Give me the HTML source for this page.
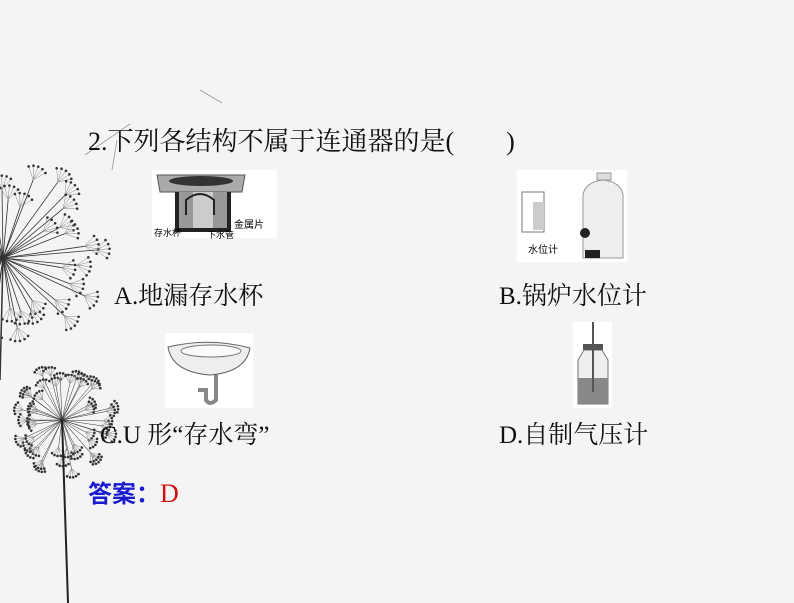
<!DOCTYPE html>
<html><head><meta charset="utf-8"><style>
body{margin:0;width:794px;height:603px;overflow:hidden;background:#f4f4f4;position:relative;font-family:"Liberation Serif","Noto Serif CJK SC",serif;color:#111}
.t{position:absolute;font-size:25px;white-space:nowrap;line-height:1}
svg{position:absolute;left:0;top:0}
</style></head><body>
<svg id="bg" width="794" height="603"></svg>
<div class="t" style="left:88px;top:129px;font-size:26px">2.下列各结构不属于连通器的是(&nbsp;&nbsp;&nbsp;&nbsp;&nbsp;&nbsp;&nbsp;&nbsp;)</div>
<div class="t" style="left:114px;top:284px">A.地漏存水杯</div>
<div class="t" style="left:499px;top:284px">B.锅炉水位计</div>
<div class="t" style="left:100px;top:423px">C.U 形“存水弯”</div>
<div class="t" style="left:499px;top:423px">D.自制气压计</div>
<div class="t" style="left:88px;top:480px;color:#1a1ad0;font-family:'Noto Sans CJK SC',sans-serif;font-size:24px;font-weight:bold">答案：<span style="color:#d01010;font-family:'Liberation Serif',serif;font-weight:normal;font-size:26px">D</span></div>
<svg width="794" height="603" style="pointer-events:none">
<rect x="152" y="170" width="125" height="68" fill="#fff"/>
<path d="M157 175 L245 175 L242 192 L160 192Z" fill="#aaa" stroke="#555"/>
<ellipse cx="201" cy="181" rx="32" ry="5" fill="#333"/>
<rect x="175" y="192" width="56" height="40" fill="#222"/>
<rect x="179" y="192" width="48" height="36" fill="#999"/>
<rect x="193" y="192" width="20" height="36" fill="#ccc"/>
<path d="M186 215 V200 Q200 188 214 200 V215" stroke="#222" stroke-width="2" fill="none"/>
<text x="234" y="228" font-size="10" font-family="Noto Sans CJK SC">金属片</text>
<text x="154" y="236" font-size="9" font-family="Noto Sans CJK SC">存水杯</text>
<text x="207" y="238" font-size="9" font-family="Noto Sans CJK SC">下水管</text>
<rect x="517" y="170" width="110" height="92" fill="#fff"/>
<rect x="522" y="192" width="22" height="40" fill="none" stroke="#777"/>
<rect x="533" y="202" width="11" height="28" fill="#ccc"/>
<path d="M583 195 Q585 182 603 180 Q621 182 623 195 V258 H583Z" fill="#eee" stroke="#999"/>
<rect x="597" y="173" width="14" height="7" fill="#ddd" stroke="#999"/>
<circle cx="585" cy="233" r="5" fill="#222"/>
<rect x="585" y="250" width="15" height="8" fill="#222"/>
<text x="528" y="253" font-size="10" font-family="Noto Sans CJK SC">水位计</text>
<rect x="165" y="333" width="88" height="75" fill="#fff"/>
<path d="M168 347 Q210 337 250 348 Q246 372 210 375 Q172 372 168 347Z" fill="#eee" stroke="#666"/>
<ellipse cx="211" cy="351" rx="30" ry="6" fill="#fafafa" stroke="#777"/>
<path d="M216 375 V400 Q210 406 206 400 V390 H198" stroke="#888" stroke-width="4" fill="none"/>
<rect x="573" y="322" width="39" height="86" fill="#fff"/>
<path d="M578 360 L584 350 H602 L608 360 V404 H578Z" fill="#eee" stroke="#777"/>
<rect x="578" y="378" width="30" height="26" fill="#888"/>
<rect x="583" y="344" width="20" height="6" fill="#555"/>
<line x1="593" y1="322" x2="593" y2="392" stroke="#555" stroke-width="2"/>
</svg>
<script>
var s=document.getElementById('bg'),h='';
function L(x1,y1,x2,y2,w,c){h+='<line x1="'+x1+'" y1="'+y1+'" x2="'+x2+'" y2="'+y2+'" stroke="'+c+'" stroke-width="'+w+'"/>';}
function D(x,y,r){h+='<circle cx="'+x+'" cy="'+y+'" r="'+r+'" fill="#333"/>';}
var seed=7;function rnd(){seed=(seed*9301+49297)%233280;return seed/233280;}
function flower(cx,cy,R,n,fan,sw){for(var i=0;i<n;i++){var ang=(i/n)*Math.PI*2+rnd()*0.2;var r=R*(0.5+0.5*rnd());var x=cx+Math.cos(ang)*r,y=cy+Math.sin(ang)*r;L(cx,cy,x,y,sw,'#333');for(var k=-2;k<=2;k++){var b=ang+k*0.35;var x2=x+Math.cos(b)*fan,y2=y+Math.sin(b)*fan;L(x,y,x2,y2,0.5,'#888');D(x2,y2,1.3);}}}
flower(3,258,95,45,14,0.8);
seed=13;flower(62,420,50,45,9,0.5);
L(62,420,68,603,2,'#222');
L(3,258,0,380,1.5,'#333');
L(200,90,222,103,0.8,'#999');L(130,124,85,155,0.8,'#999');L(117,140,112,170,0.8,'#999');
s.innerHTML=h;
</script>
</body></html>
